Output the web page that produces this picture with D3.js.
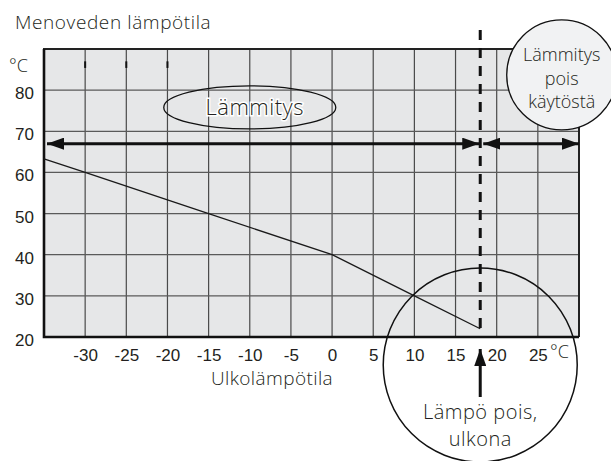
<!DOCTYPE html>
<html>
<head>
<meta charset="utf-8">
<script src="https://cdn.jsdelivr.net/npm/d3@7"></script>
<style>
  body { margin: 0; background: #fff; }
  svg { display: block; }
  text { font-family: "Open Sans", "Liberation Sans", Arial, sans-serif; font-weight: 300; fill: #231f20; }
</style>
</head>
<body>
<svg id="chart" width="611" height="461"></svg>
<script>
// data
const outdoorTemps = [-35, -30, -15, 0, 10, 18];
const flowTemps = [63.3, 60, 50, 40, 30, 22];
const xTicks = [-30, -25, -20, -15, -10, -5, 0, 5, 10, 15, 20, 25];
const yTicks = [20, 30, 40, 50, 60, 70, 80];
const cutoffTemp = 18;
const heatingArrowTemp = 67;
const stubTicks = [-30, -25, -20];

const svg = d3.select("#chart");
const x = d3.scaleLinear().domain([-35, 30]).range([44, 579]);
const y = d3.scaleLinear().domain([20, 90]).range([337, 49]);

// arrow heads
const defs = svg.append("defs");
defs.append("marker").attr("id", "head")
  .attr("viewBox", "0 0 17 12").attr("refX", 17).attr("refY", 6)
  .attr("markerWidth", 17).attr("markerHeight", 12)
  .attr("markerUnits", "userSpaceOnUse").attr("orient", "auto-start-reverse")
  .append("path").attr("d", "M0,0 L17,6 L0,12 Z").attr("fill", "#111");

// plot background
svg.append("rect")
  .attr("x", x(-35)).attr("y", y(90))
  .attr("width", x(30) - x(-35)).attr("height", y(20) - y(90))
  .attr("fill", "#e6e7e8");

// grid
svg.append("g").selectAll("line").data(xTicks).enter().append("line")
  .attr("x1", d => x(d)).attr("x2", d => x(d))
  .attr("y1", y(90)).attr("y2", y(20))
  .attr("stroke", "#4a4a4a").attr("stroke-width", 1.2);
svg.append("g").selectAll("line").data(yTicks.slice(1)).enter().append("line")
  .attr("x1", x(-35)).attr("x2", x(30))
  .attr("y1", d => y(d)).attr("y2", d => y(d))
  .attr("stroke", "#5a5a5a").attr("stroke-width", 1.2);

svg.append("g").selectAll("line").data(stubTicks).enter().append("line")
  .attr("x1", d => x(d)).attr("x2", d => x(d))
  .attr("y1", y(87)).attr("y2", y(85.4))
  .attr("stroke", "#111").attr("stroke-width", 2);

// frame
svg.append("path")
  .attr("d", `M${x(-35)},${y(20)} L${x(-35)},${y(90)} L${x(30)},${y(90)} L${x(30)},${y(20)}`)
  .attr("fill", "none").attr("stroke", "#222").attr("stroke-width", 2);
svg.append("path")
  .attr("d", `M${x(-35)},${y(90)} L${x(-35)},${y(20)} L${x(30)},${y(20)}`)
  .attr("fill", "none").attr("stroke", "#111").attr("stroke-width", 2.6);

// heating curve
const line = d3.line().x(d => x(d[0])).y(d => y(d[1]));
svg.append("path")
  .datum(outdoorTemps.map((t, i) => [t, flowTemps[i]]))
  .attr("d", line)
  .attr("fill", "none").attr("stroke", "#1a1a1a").attr("stroke-width", 1.3);

// heating on / off arrows
svg.append("line")
  .attr("x1", x(-35) + 3).attr("x2", x(cutoffTemp) - 1)
  .attr("y1", y(heatingArrowTemp)).attr("y2", y(heatingArrowTemp))
  .attr("stroke", "#111").attr("stroke-width", 3)
  .attr("marker-start", "url(#head)").attr("marker-end", "url(#head)");
svg.append("line")
  .attr("x1", x(cutoffTemp) + 3).attr("x2", x(30))
  .attr("y1", y(heatingArrowTemp)).attr("y2", y(heatingArrowTemp))
  .attr("stroke", "#111").attr("stroke-width", 3)
  .attr("marker-start", "url(#head)").attr("marker-end", "url(#head)");

// cutoff dashed line
svg.append("line")
  .attr("x1", x(cutoffTemp)).attr("x2", x(cutoffTemp))
  .attr("y1", 30).attr("y2", y(20) - 3)
  .attr("stroke", "#111").attr("stroke-width", 3)
  .attr("stroke-dasharray", "10,8");

// "Lämmitys" ellipse
svg.append("ellipse")
  .attr("cx", x(-10)).attr("cy", y(75.8)).attr("rx", 86).attr("ry", 21.5)
  .attr("fill", "none").attr("stroke", "#111").attr("stroke-width", 1.3);
svg.append("text")
  .attr("x", x(-9.4)).attr("y", y(75.8) + 8)
  .attr("text-anchor", "middle").attr("font-size", 22).attr("letter-spacing", 0.5)
  .attr("stroke", "#fff").attr("stroke-width", 3).attr("paint-order", "stroke")
  .text("Lämmitys");

// "Lämmitys pois käytöstä" circle
svg.append("circle")
  .attr("cx", x(27.9)).attr("cy", y(83.7)).attr("r", 55)
  .attr("fill", "#f1f2f3").attr("stroke", "#111").attr("stroke-width", 1.3);
const offText = svg.append("text").attr("text-anchor", "middle").attr("font-size", 18);
["Lämmitys", "pois", "käytöstä"].forEach((s, i) => {
  offText.append("tspan").attr("x", x(27.9)).attr("y", 61 + i * 23.5).text(s);
});

// "Lämpö pois, ulkona" circle + arrow
svg.append("circle")
  .attr("cx", x(cutoffTemp)).attr("cy", 365).attr("r", 97)
  .attr("fill", "none").attr("stroke", "#111").attr("stroke-width", 1.5);
svg.append("line")
  .attr("x1", x(cutoffTemp)).attr("x2", x(cutoffTemp))
  .attr("y1", 397).attr("y2", 349)
  .attr("stroke", "#111").attr("stroke-width", 3)
  .attr("marker-end", "url(#head)");
const warmText = svg.append("text").attr("text-anchor", "middle")
  .attr("font-size", 20).attr("letter-spacing", 0.5);
warmText.append("tspan").attr("x", x(cutoffTemp)).attr("y", 419).text("Lämpö pois,");
warmText.append("tspan").attr("x", x(cutoffTemp)).attr("y", 446).text("ulkona");

// axes
const numFont = "'Liberation Sans', Arial, sans-serif";
const xAxis = svg.append("g")
  .attr("transform", `translate(0,${y(20) + 6})`)
  .call(d3.axisBottom(x).tickValues(xTicks).tickSize(0).tickPadding(6).tickFormat(d => String(d)));
xAxis.select(".domain").remove();
xAxis.selectAll("text").attr("font-size", 17)
  .attr("fill", "#231f20").style("font-family", numFont).style("font-weight", 400);

const yAxis = svg.append("g")
  .attr("transform", `translate(${x(-35) - 10},3)`)
  .call(d3.axisLeft(y).tickValues(yTicks).tickSize(0).tickPadding(0));
yAxis.select(".domain").remove();
yAxis.selectAll("text").attr("font-size", 17).attr("fill", "#231f20")
  .style("font-family", numFont).style("font-weight", 400);

// titles
svg.append("text").attr("x", 15).attr("y", 29).attr("font-size", 19).attr("letter-spacing", 0.6)
  .text("Menoveden lämpötila");
svg.append("text").attr("x", 9).attr("y", 72).attr("font-size", 18).text("°C");
svg.append("text").attr("x", 550).attr("y", 358).attr("font-size", 18).text("°C");
svg.append("text").attr("x", 272).attr("y", 385).attr("text-anchor", "middle")
  .attr("font-size", 19).attr("letter-spacing", 0.4).text("Ulkolämpötila");
</script>
</body>
</html>
